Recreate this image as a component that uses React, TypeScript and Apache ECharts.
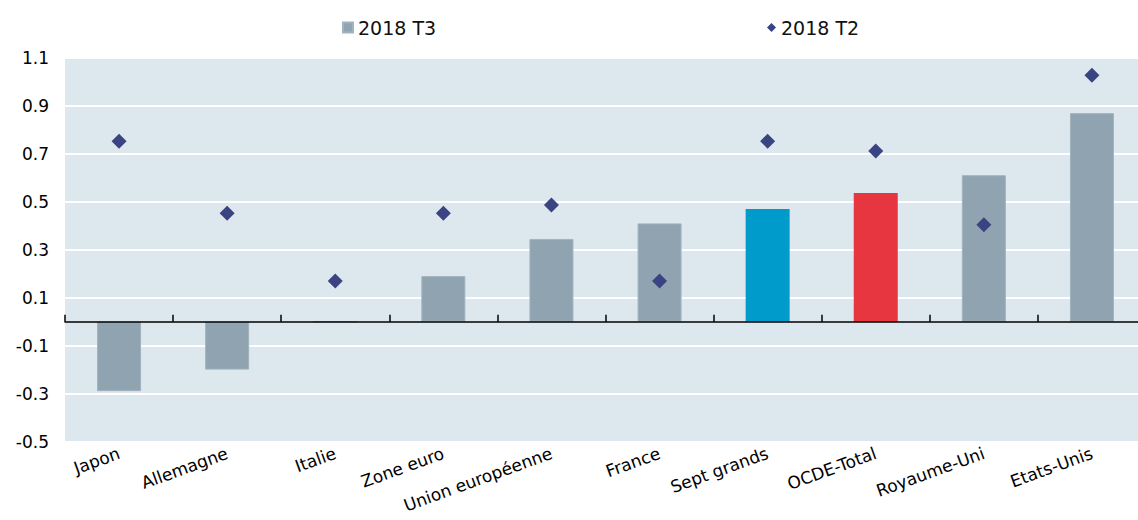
import React, { useEffect, useRef } from "react";
import * as echarts from "echarts";

const categories = [
  "Japon",
  "Allemagne",
  "Italie",
  "Zone euro",
  "Union européenne",
  "France",
  "Sept grands",
  "OCDE-Total",
  "Royaume-Uni",
  "Etats-Unis",
];
const t3Values = [-0.29, -0.2, 0.0, 0.19, 0.345, 0.41, 0.47, 0.537, 0.611, 0.87];
const t2Values = [0.753, 0.452, 0.17, 0.452, 0.487, 0.17, 0.753, 0.712, 0.404, 1.028];
const yTickLabels = [-0.5, -0.3, -0.1, 0.1, 0.3, 0.5, 0.7, 0.9, 1.1];
const highlightColors: Record<string, string> = {
  "Sept grands": "#009bcb",
  "OCDE-Total": "#e73640",
};

const FONT = "DejaVu Sans";
const BAR_GREY = "#8fa4b0";
const DIAMOND = "#3a4483";

export default function App() {
  const ref = useRef<HTMLDivElement>(null);
  useEffect(() => {
    if (!ref.current) return;
    const chart = echarts.init(ref.current, null, { renderer: "svg" });
    const barData = categories.map((c, i) => {
      const hc = highlightColors[c];
      return hc
        ? { value: t3Values[i], itemStyle: { color: hc, borderWidth: 0 } }
        : { value: t3Values[i] };
    });
    chart.setOption({
      animation: false,
      backgroundColor: "#ffffff",
      textStyle: { fontFamily: FONT },
      legend: [
        {
          data: ["2018 T3"],
          left: 337,
          top: 13,
          icon: "rect",
          itemWidth: 10,
          itemHeight: 10,
          itemGap: 0,
          textStyle: { fontSize: 19, color: "#111", fontFamily: FONT },
        },
        {
          data: ["2018 T2"],
          left: 762,
          top: 13,
          icon: "diamond",
          itemWidth: 9,
          itemHeight: 9,
          itemGap: 0,
          textStyle: { fontSize: 19, color: "#111", fontFamily: FONT },
        },
      ],
      grid: {
        left: 65,
        top: 58,
        width: 1081,
        height: 383.5,
        show: true,
        backgroundColor: "#dde7ee",
        borderWidth: 0,
        containLabel: false,
      },
      xAxis: [
        {
          type: "category",
          data: categories,
          boundaryGap: true,
          axisLine: { show: true, onZero: true, lineStyle: { color: "#000", width: 1.5 } },
          axisTick: {
            show: true,
            inside: true,
            length: 7,
            interval: 0,
            lineStyle: { color: "#000", width: 1.5 },
          },
          axisLabel: { show: false, interval: 0 },
          splitLine: { show: false },
          z: 5,
        },
        {
          type: "category",
          data: categories,
          position: "bottom",
          boundaryGap: true,
          axisLine: { show: false, onZero: false },
          axisTick: { show: false },
          axisLabel: {
            show: true,
            rotate: 20,
            margin: 11,
            fontSize: 17,
            color: "#000",
            fontFamily: FONT,
            interval: 0,
          },
          splitLine: { show: false },
        },
      ],
      yAxis: {
        type: "value",
        min: -0.5,
        max: 1.1,
        interval: 0.1,
        axisLine: { show: false },
        axisTick: { show: false },
        axisLabel: {
          margin: 16,
          fontSize: 17,
          color: "#000",
          fontFamily: FONT,
          formatter: (v: number) =>
            yTickLabels.some((t) => Math.abs(t - v) < 1e-6) ? v.toFixed(1) : "",
        },
        splitLine: {
          show: true,
          lineStyle: { color: ["#ffffff", "rgba(0,0,0,0)"], width: 2 },
        },
      },
      series: [
        {
          name: "2018 T3",
          type: "bar",
          xAxisIndex: 0,
          data: barData,
          barWidth: 44,
          itemStyle: { color: BAR_GREY, borderColor: "#a2b3be", borderWidth: 1 },
          z: 2,
        },
        {
          name: "2018 T2",
          type: "scatter",
          xAxisIndex: 0,
          data: t2Values,
          symbol: "diamond",
          symbolSize: 15,
          itemStyle: { color: DIAMOND, opacity: 1 },
          z: 6,
        },
      ],
    });
    return () => chart.dispose();
  }, []);
  return (
    <div
      style={{
        position: "absolute",
        left: 0,
        top: 0,
        width: 1138,
        height: 520,
        overflow: "hidden",
      }}
    >
      <div ref={ref} style={{ width: 1150, height: 520 }} />
    </div>
  );
}
